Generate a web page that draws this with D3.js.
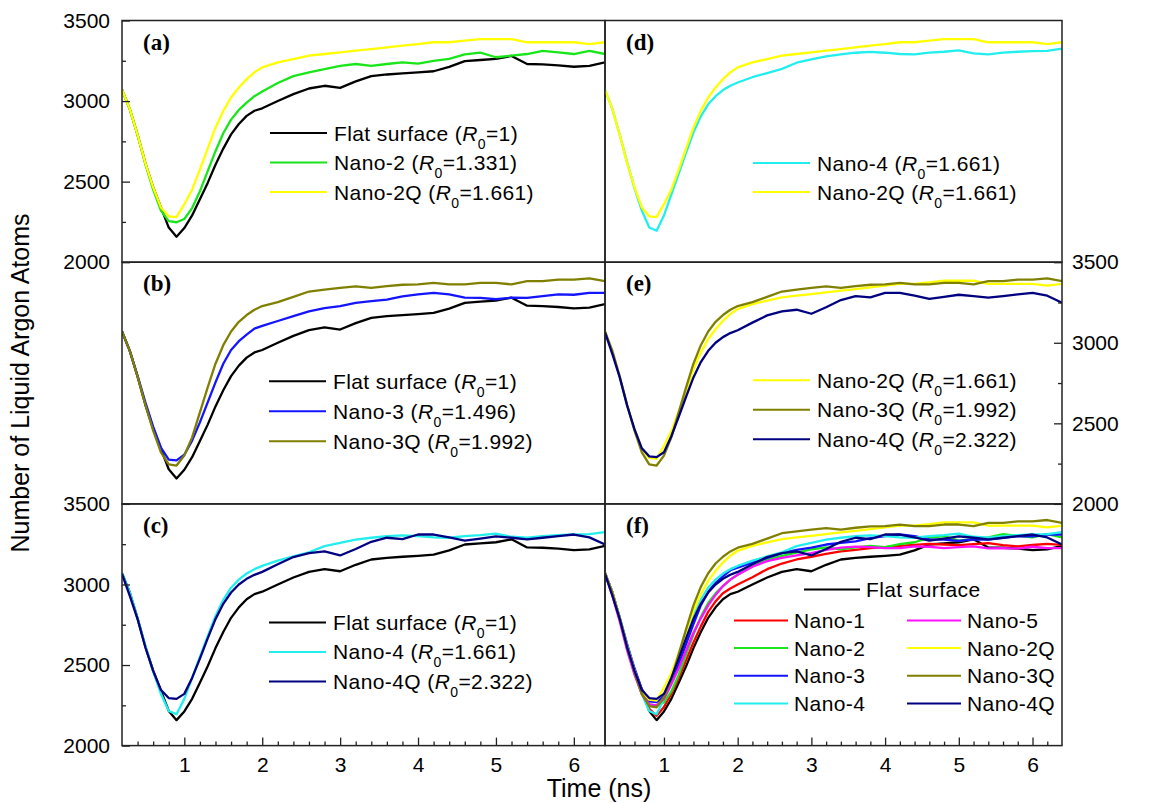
<!DOCTYPE html>
<html>
<head>
<meta charset="UTF-8">
<script src="https://d3js.org/d3.v7.min.js"></script>
<style>
  body { margin: 0; background: #fff; }
</style>
</head>
<body>
<svg id="canvas"></svg>
<script>
width = 1153;
height = 803;

// time axis (ns) shared by every curve
time = [0.2,0.3,0.4,0.5,0.6,0.7,0.8,0.9,1.0,1.1,1.2,1.3,1.4,1.5,1.6,1.7,1.8,1.9,2.0,
        2.2,2.4,2.6,2.8,3.0,3.2,3.4,3.6,3.8,4.0,4.2,4.4,4.6,4.8,5.0,5.2,5.4,5.6,5.8,6.0,6.2,6.4];

flatSurface = [3070,2950,2790,2615,2465,2340,2215,2158,2212,2290,2390,2492,2605,2705,2793,2858,2908,2940,2955,
               3000,3043,3078,3095,3082,3122,3155,3165,3172,3178,3185,3212,3248,3255,3262,3280,3230,3228,3222,3213,3218,3240];
nano1  = [3070,2950,2790,2615,2470,2345,2228,2185,2240,2320,2420,2530,2640,2740,2830,2895,2945,2975,3000,
          3045,3095,3130,3155,3172,3190,3205,3215,3225,3232,3240,3246,3252,3248,3244,3250,3256,3244,3236,3245,3252,3246];
nano2  = [3070,2950,2790,2610,2450,2320,2255,2248,2268,2336,2440,2565,2689,2800,2885,2945,2990,3030,3060,
          3112,3155,3178,3198,3218,3230,3218,3230,3240,3232,3250,3262,3290,3300,3272,3282,3292,3312,3302,3292,3312,3292];
nano3  = [3070,2950,2795,2630,2480,2350,2275,2270,2305,2393,2506,2630,2754,2870,2955,3010,3050,3088,3105,
          3135,3165,3195,3215,3228,3248,3258,3268,3288,3300,3310,3300,3280,3278,3270,3280,3278,3290,3300,3298,3310,3310];
nano4  = [3070,2950,2790,2620,2460,2320,2215,2195,2290,2420,2550,2680,2805,2905,2980,3030,3068,3095,3115,
          3148,3174,3200,3238,3258,3278,3290,3300,3305,3300,3292,3290,3300,3306,3315,3296,3290,3300,3306,3310,3312,3325];
nano5  = [3070,2930,2770,2590,2440,2320,2255,2250,2290,2380,2480,2590,2700,2790,2870,2935,2990,3030,3060,
          3110,3145,3165,3180,3195,3215,3228,3235,3232,3225,3226,3236,3234,3226,3232,3236,3224,3226,3222,3234,3226,3226];
nano2Q = [3070,2950,2790,2615,2465,2340,2285,2280,2360,2450,2575,2705,2835,2939,3022,3084,3136,3178,3209,
          3240,3261,3282,3292,3302,3313,3323,3333,3344,3354,3365,3365,3375,3385,3385,3385,3365,3365,3365,3365,3354,3365];
nano3Q = [3070,2950,2790,2615,2455,2320,2245,2238,2300,2413,2568,2723,2870,2985,3070,3130,3172,3205,3228,
          3252,3285,3318,3330,3340,3350,3340,3352,3360,3362,3372,3362,3362,3372,3372,3362,3382,3382,3392,3392,3400,3382];
nano4Q = [3065,2930,2785,2610,2464,2345,2295,2290,2321,2420,2540,2665,2785,2880,2950,3000,3035,3060,3078,
          3125,3170,3195,3205,3180,3220,3265,3290,3282,3310,3310,3292,3272,3285,3298,3290,3280,3290,3300,3310,3292,3248];

seriesKeys   = ["flat","nano1","nano2","nano3","nano4","nano5","nano2Q","nano3Q","nano4Q"];
seriesValues = [flatSurface, nano1, nano2, nano3, nano4, nano5, nano2Q, nano3Q, nano4Q];
seriesNames  = ["Flat surface","Nano-1","Nano-2","Nano-3","Nano-4","Nano-5","Nano-2Q","Nano-3Q","Nano-4Q"];
seriesR0     = ["1","","1.331","1.496","1.661","","1.661","1.992","2.322"];
seriesColors = ["#000000","#ff0000","#19e619","#1414ff","#22eeee","#ff10ff","#ffff00","#808000","#000080"];

yMajor = [2000,2500,3000,3500];
yMinor = [2250,2750,3250];
xMajor = [1,2,3,4,5,6];
xMinor = [0.4,0.6,0.8,1.2,1.4,1.6,1.8,2.2,2.4,2.6,2.8,3.2,3.4,3.6,3.8,4.2,4.4,4.6,4.8,5.2,5.4,5.6,5.8,6.2];

panelLabels = ["(a)","(b)","(c)","(d)","(e)","(f)"];
panelSeries = [
  ["flat","nano2","nano2Q"],
  ["flat","nano3","nano3Q"],
  ["flat","nano4","nano4Q"],
  ["nano4","nano2Q"],
  ["nano2Q","nano3Q","nano4Q"],
  ["flat","nano1","nano2","nano3","nano4","nano5","nano2Q","nano3Q","nano4Q"]
];

// layout
cols = [[122,605],[605,1062]];
top0 = 20.5;
rowH = 241.7;
sans = "'Liberation Sans', Arial, sans-serif";

svg = d3.select("#canvas").attr("width", width).attr("height", height)
  .attr("font-family", sans);

x0 = d3.scaleLinear().domain([0.2,6.4]);
y0 = d3.scaleLinear().domain([2000,3500]).range([rowH,0]);

panelSetup = [
  {col:0,row:0,left:true},
  {col:0,row:1},
  {col:0,row:2,left:true,bottom:true},
  {col:1,row:0},
  {col:1,row:1,right:true},
  {col:1,row:2,bottom:true}
];

// legend placement (panel-local)
legendPos = [
  {lx:148, ly:112.5, dy:29.5},
  {lx:147, ly:119, dy:30},
  {lx:147, ly:118.5, dy:29.5},
  {lx:148, ly:142.5, dy:29},
  {lx:148, ly:118, dy:29.5},
  null
];

function legendText(sel) {
  sel.attr("font-size","21px").attr("letter-spacing","0.4px");
}

panelSetup.forEach(function(p, pi) {
  var xa = cols[p.col][0], xb = cols[p.col][1];
  var w = xb - xa;
  var ya = top0 + p.row*rowH;
  var x = x0.copy().range([0,w]);
  var y = y0;
  var g = svg.append("g").attr("transform","translate("+xa+","+ya+")");

  g.append("clipPath").attr("id","clip"+pi)
    .append("rect").attr("width",w).attr("height",rowH);

  var line = d3.line().x(function(d,i){ return x(time[i]); }).y(function(d){ return y(d); });

  var lines = g.append("g").attr("clip-path","url(#clip"+pi+")");
  panelSeries[pi].forEach(function(k) {
    var si = seriesKeys.indexOf(k);
    lines.append("path")
      .attr("d", line(seriesValues[si]))
      .attr("fill","none")
      .attr("stroke", seriesColors[si])
      .attr("stroke-width", 2.3)
      .attr("stroke-linejoin","round");
  });

  // axes with inward ticks
  function styleAxis(sel) {
    sel.select(".domain").remove();
    sel.attr("font-family", sans).attr("font-size", 21);
    sel.selectAll("line").attr("stroke","#222").attr("stroke-width",1.3);
    sel.selectAll("text").attr("fill","#000");
  }
  if (p.left) {
    g.append("g").call(d3.axisLeft(y).tickValues(yMajor).tickSizeInner(-8).tickSizeOuter(0).tickPadding(12).tickFormat(d3.format("d"))).call(styleAxis);
    g.append("g").call(d3.axisLeft(y).tickValues(yMinor).tickSizeInner(-4).tickSizeOuter(0).tickFormat("")).call(styleAxis);
  }
  if (p.right) {
    g.append("g").attr("transform","translate("+w+",0)")
      .call(d3.axisRight(y).tickValues(yMajor).tickSizeInner(-8).tickSizeOuter(0).tickPadding(10).tickFormat(d3.format("d"))).call(styleAxis);
    g.append("g").attr("transform","translate("+w+",0)")
      .call(d3.axisRight(y).tickValues(yMinor).tickSizeInner(-4).tickSizeOuter(0).tickFormat("")).call(styleAxis);
  }
  if (p.bottom) {
    g.append("g").attr("transform","translate(0,"+rowH+")")
      .call(d3.axisBottom(x).tickValues(xMajor).tickSizeInner(-8).tickSizeOuter(0).tickPadding(11).tickFormat(d3.format("d"))).call(styleAxis);
    g.append("g").attr("transform","translate(0,"+rowH+")")
      .call(d3.axisBottom(x).tickValues(xMinor).tickSizeInner(-4).tickSizeOuter(0).tickFormat("")).call(styleAxis);
  }

  g.append("rect").attr("width",w).attr("height",rowH)
    .attr("fill","none").attr("stroke","#222").attr("stroke-width",1.5);

  g.append("text").attr("x",21).attr("y",29)
    .attr("font-family","'Liberation Serif','Times New Roman',serif")
    .attr("font-weight","bold").attr("font-size","23px")
    .text(panelLabels[pi]);

  // legend
  var lp = legendPos[pi];
  if (lp) {
    panelSeries[pi].forEach(function(k, j) {
      var si = seriesKeys.indexOf(k);
      var ly = lp.ly + j*lp.dy;
      g.append("line").attr("x1",lp.lx).attr("x2",lp.lx+57).attr("y1",ly).attr("y2",ly)
        .attr("stroke",seriesColors[si]).attr("stroke-width",2);
      var t = g.append("text").attr("x",lp.lx+64).attr("y",ly).attr("dy","0.36em").call(legendText);
      t.append("tspan").text(seriesNames[si]+" (");
      t.append("tspan").attr("font-style","italic").text("R");
      t.append("tspan").attr("font-size","14px").attr("dy","8").text("0");
      t.append("tspan").attr("dy","-8").text("="+seriesR0[si]+")");
    });
  } else {
    // panel (f): single flat entry, then two columns of four
    var fi = seriesKeys.indexOf("flat");
    var fy = 85.5;
    g.append("line").attr("x1",199).attr("x2",255).attr("y1",fy).attr("y2",fy)
      .attr("stroke",seriesColors[fi]).attr("stroke-width",2);
    g.append("text").attr("x",261).attr("y",fy).attr("dy","0.36em").call(legendText)
      .text(seriesNames[fi]);
    var rest = panelSeries[pi].slice(1);
    rest.forEach(function(k, j) {
      var si = seriesKeys.indexOf(k);
      var c = Math.floor(j/4), r = j%4;
      var lx = c === 0 ? 129 : 302;
      var ly = 116.5 + r*27.7;
      g.append("line").attr("x1",lx).attr("x2",lx+54).attr("y1",ly).attr("y2",ly)
        .attr("stroke",seriesColors[si]).attr("stroke-width",2);
      g.append("text").attr("x",lx+60).attr("y",ly).attr("dy","0.36em").call(legendText)
        .text(seriesNames[si]);
    });
  }
});

// axis titles
svg.append("text")
  .attr("transform","translate(29,383) rotate(-90)")
  .attr("text-anchor","middle").attr("font-size","25px")
  .text("Number of Liquid Argon Atoms");

svg.append("text")
  .attr("x",599).attr("y",797)
  .attr("text-anchor","middle").attr("font-size","25px")
  .text("Time (ns)");
</script>
</body>
</html>
